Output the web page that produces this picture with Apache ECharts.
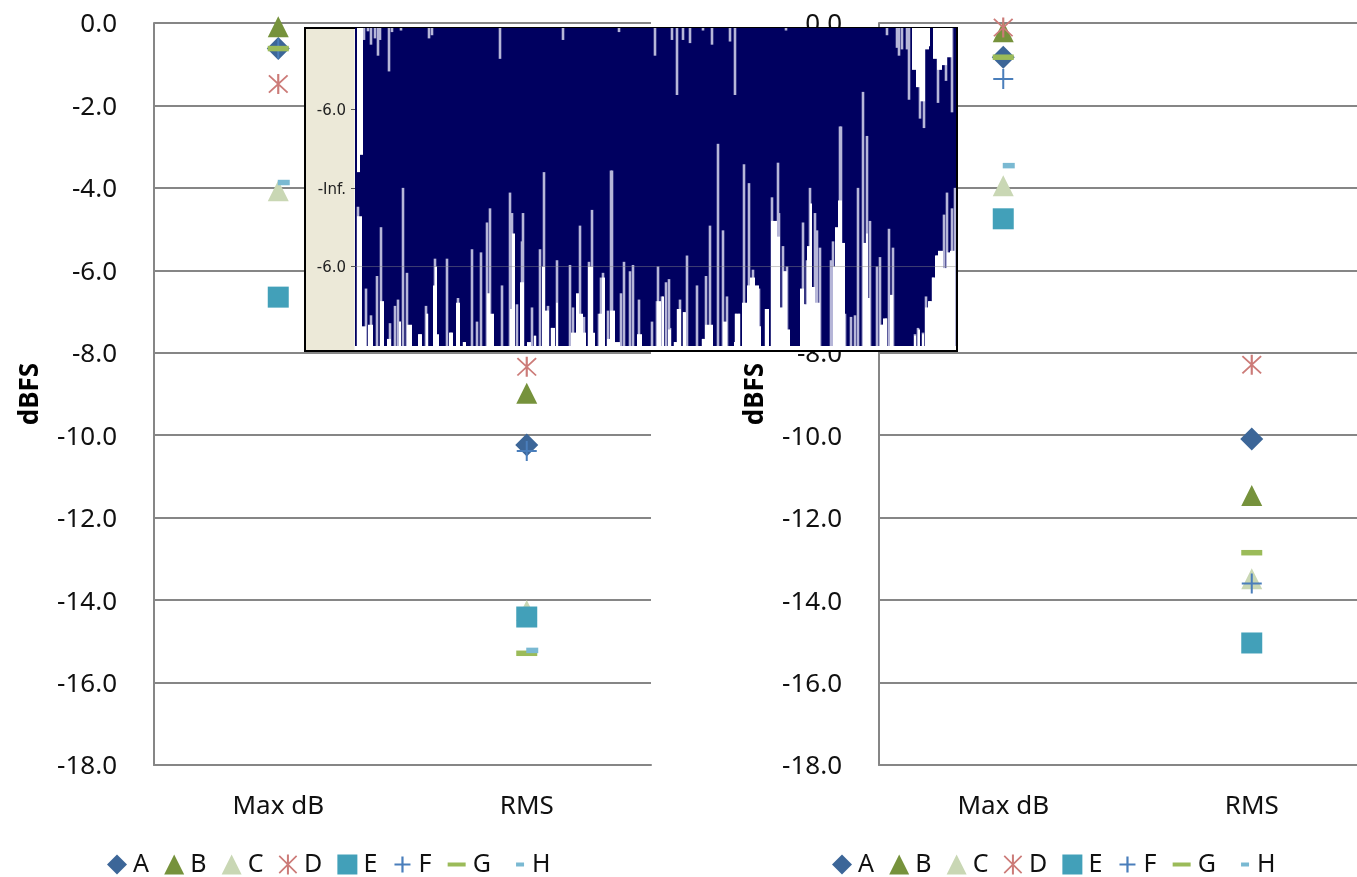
<!DOCTYPE html>
<html><head><meta charset="utf-8">
<style>html,body{margin:0;padding:0;background:#fff;overflow:hidden;width:1357px;height:877px}#c{width:1400px;height:877px}</style>
<script src="https://cdn.jsdelivr.net/npm/echarts@6/dist/echarts.min.js"></script>
</head><body><div id="c"></div>
<script>
const categories = ['Max dB', 'RMS'];
const yTicks = [0, -2, -4, -6, -8, -10, -12, -14, -16, -18];
const seriesNames = ['A', 'B', 'C', 'D', 'E', 'F', 'G', 'H'];
const leftA = [-0.62, -10.24], leftB = [-0.09, -8.98], leftC = [-4.07, -14.25], leftD = [-1.48, -8.34];
const leftE = [-6.65, -14.41], leftF = [-0.62, -10.38], leftG = [-0.62, -15.29], leftH = [-3.87, -15.22];
const rightA = [-0.83, -10.09], rightB = [-0.21, -11.46], rightC = [-3.95, -13.48], rightD = [-0.11, -8.29];
const rightE = [-4.75, -15.04], rightF = [-1.36, -13.6], rightG = [-0.83, -12.85], rightH = [-3.46, null];

// inset waveform readings: [sample, amplitude]
const lowerSpikes = [[3,-.12],[11,-.64],[16,-.81],[22,-.56],[26,-.25],[35,-.86],[40,-.75],[43,-.71],[48,0],[52,-.54],[65,-.93],[71,-.75],[72,-.80],[80,-.45],[92,-.45],[96,-.92],[103,-.70],[109,-.98],[117,-.39],[122,-.85],[126,-.41],[132,-.22],[135,-.13],[147,-.62],[155,-.03],[157,-.16],[162,-.74],[167,-.34],[168,-.16],[177,-.76],[180,-.94],[185,-.39],[189,.10],[193,-.75],[197,-.89],[202,-.46],[215,-.49],[218,-.76],[225,-.24],[229,-.82],[234,-.47],[237,-.14],[244,-.80],[246,-.57],[248,-.54],[253,-.78],[256,.11],[257,.11],[266,-.67],[269,-.47],[275,-.53],[278,-.49],[284,-.71],[297,-.85],[302,-.72],[303,-.50],[307,-.69],[311,-.60],[314,-.58],[315,-.89],[320,-.98],[323,-.77],[325,-.71],[329,-.79],[332,-.43],[342,-.62],[348,-.96],[351,-.56],[355,-.24],[363,.28],[368,-.27],[372,-.69],[381,-.80],[384,-.80],[389,.15],[394,.03],[398,-.52],[404,-.64],[411,-.77],[417,-.06],[423,.16],[424,-.16],[428,-.37],[430,-.53],[432,-.50],[448,-.22],[449,-.74],[452,-.46],[455,0],[460,-.16],[462,-.27],[465,-.38],[476,-.46],[478,-.34],[485,.39],[486,.39],[490,-.80],[496,-.82],[500,-.81],[503,0],[508,.61],[512,.33],[515,-.21],[522,-.50],[525,-.44],[527,-.87],[531,-.83],[534,-.26],[538,-.38],[560,-.93],[563,-.89],[568,-.92],[571,-.69],[575,-.72],[578,-.57],[582,-.43],[589,-.17],[592,-.03],[597,-.13],[600,0]];
const upperSpikes = [[9,.94],[13,.995],[16,.91],[20,.95],[23,.84],[25,.94],[34,.74],[37,.99],[46,1.0],[74,.95],[77,.97],[145,.82],[208,.94],[264,.99],[300,.84],[317,.94],[322,.59],[328,.94],[335,.92],[348,1.0],[357,.91],[375,.93],[380,.59],[431,1.0],[532,.97],[542,.89],[544,.84],[547,.88],[552,.88],[554,.56],[565,.44],[569,.38],[583,.54],[591,.68],[597,.48]];
// solid white columns: [from, to, amplitude]
const lowerFill = [[2,7,-.18],[7,11,-.88],[13,18,-.87],[25,29,-.72],[32,36,-.96],[44,46,-.85],[52,57,-.87],[63,67,-.93],[71,73,-.80],[78,80,-.62],[80,82,-.50],[82,84,-.93],[94,98,-.92],[101,105,-.73],[108,111,-.98],[132,135,-.67],[135,139,-.80],[155,157,-.77],[157,160,-.29],[165,169,-.60],[172,176,-.98],[179,181,-.94],[187,190,-.50],[190,194,-.78],[196,200,-.89],[201,203,-.73],[216,221,-.92],[221,224,-.67],[224,228,-.80],[228,231,-.92],[233,238,-.50],[238,240,-.92],[244,247,-.80],[247,250,-.57],[252,255,-.96],[255,260,-.78],[260,265,-.98],[282,287,-.93],[302,306,-.72],[307,309,-.69],[313,316,-.90],[319,322,-.98],[322,326,-.77],[328,331,-.79],[347,350,-.96],[350,358,-.87],[368,372,-.85],[379,381,-.98],[380,385,-.80],[387,392,-.73],[392,395,-.62],[395,400,-.57],[400,404,-.62],[404,406,-.88],[410,414,-.77],[416,422,-.21],[422,425,-.31],[425,428,-.76],[428,432,-.53],[432,435,-.90],[445,449,-.64],[449,452,-.74],[452,455,-.37],[455,457,-.10],[457,460,-.63],[460,465,-.73],[478,480,-.50],[480,483,-.25],[483,487,-.08],[487,490,-.35],[508,511,-.35],[511,513,-.29],[513,515,-.70],[525,528,-.87],[528,532,-.83],[535,538,-.68],[559,561,-.94],[563,565,-.90],[567,569,-.93],[570,573,-.76],[573,577,-.72],[577,580,-.57],[580,583,-.43],[583,588,-.40],[588,592,-.51],[592,595,-.41],[595,600,-.40]];
const upperFill = [[2,5,.10],[5,8,.21],[557,561,.75],[561,565,.64],[565,570,.55],[570,574,.88],[574,575,.90],[578,582,.82],[582,587,.75],[587,592,.78],[592,597,.83]];
const insetTicks = [0.5, 0, -0.5];
const insetTickLabels = ['-6.0', '-Inf.', '-6.0'];
const insetMin = -1.005, insetMax = 1.016;

const FONT = '"Noto Sans",sans-serif';
const PLUS = 'path://M9 0H11V9H20V11H11V20H9V11H0V9H9Z';
const STAR = 'path://M9 0H11V20H9ZM0.7 1.9L1.9 0.7L19.3 18.1L18.1 19.3ZM18.1 0.7L19.3 1.9L1.9 19.3L0.7 18.1Z';
const looks = {
  A:{symbol:'diamond',size:23,color:'#3C6698'},
  B:{symbol:'triangle',size:21,color:'#76923C'},
  C:{symbol:'triangle',size:21,color:'#C9D7B4'},
  D:{symbol:STAR,size:20,color:'#CC7B78'},
  E:{symbol:'rect',size:21,color:'#42A0B9'},
  F:{symbol:PLUS,size:20,color:'#4A7EBB'},
  G:{symbol:'rect',size:[21,5.5],color:'#9BBB59'},
  H:{symbol:'rect',size:[12,5.5],color:'#7AB9D2',offset:[5.5,0]}
};
const legendIcons = {
  A:'diamond',B:'triangle',C:'triangle',D:STAR,E:'rect',
  F:'path://M0 0L0 0M8.9 2H11.1V8.9H18V11.1H11.1V18H8.9V11.1H2V8.9H8.9ZM20 20L20 20',
  G:'path://M0 0L0 0M1 8H19V12H1ZM20 20L20 20',
  H:'path://M0 0L0 0M10 8H18V12H10ZM20 20L20 20'
};
function leftData(k){return {A:leftA,B:leftB,C:leftC,D:leftD,E:leftE,F:leftF,G:leftG,H:leftH}[k];}
function rightData(k){return {A:rightA,B:rightB,C:rightC,D:rightD,E:rightE,F:rightF,G:rightG,H:rightH}[k];}

const panels = [{left:154,get:leftData,legend:107},{left:879,get:rightData,legend:832}];
const grid=[],xAxis=[],yAxis=[],series=[],legend=[];
const gray='#868686';
panels.forEach((p,i)=>{
  grid.push({left:p.left,width:497,top:23,height:742});
  xAxis.push({type:'category',gridIndex:i,data:categories,position:'bottom',
    axisLine:{onZero:false,lineStyle:{color:gray,width:2}},axisTick:{show:false},
    axisLabel:{color:'#111',fontFamily:FONT,fontSize:26,margin:29},splitLine:{show:false}});
  yAxis.push({type:'value',gridIndex:i,min:-18,max:0,interval:2,
    name:'dBFS',nameLocation:'middle',nameGap:110,nameRotate:90,
    nameTextStyle:{fontFamily:FONT,fontWeight:'bold',fontSize:26,color:'#000'},
    axisLine:{show:true,lineStyle:{color:gray,width:2}},axisTick:{show:false},
    axisLabel:{color:'#111',fontFamily:FONT,fontSize:26,margin:37,verticalAlign:'top',lineHeight:4,formatter:v=>v.toFixed(1)},
    splitLine:{show:true,lineStyle:{color:gray,width:2}}});
  seriesNames.forEach(k=>{
    const s=looks[k];
    series.push({type:'scatter',name:k,xAxisIndex:i,yAxisIndex:i,data:p.get(k),symbol:s.symbol,symbolSize:s.size,
      symbolOffset:s.offset||[0,0],itemStyle:{color:s.color,opacity:1},z:3,silent:true,clip:false});
  });
  legend.push({left:p.legend,top:852,padding:0,itemWidth:20,itemHeight:20,itemGap:15.2,
    textStyle:{fontFamily:FONT,fontSize:25,color:'#111',padding:[0,0,0,1]},
    data:seriesNames.map(k=>({name:k,icon:legendIcons[k]})),selectedMode:false});
});

// inset
const ix=2;
grid.push({left:355,width:601,top:28,height:318,show:true,backgroundColor:'#000060',borderWidth:0,z:10});
xAxis.push({type:'value',gridIndex:ix,min:0,max:601,show:false,z:11});
yAxis.push({type:'value',gridIndex:ix,min:insetMin,max:insetMax,z:11,
  axisLine:{show:false},
  axisTick:{show:true,customValues:insetTicks,length:4,lineStyle:{color:'#555'}},
  axisLabel:{show:true,customValues:insetTicks,color:'#222',fontFamily:'"DejaVu Sans",sans-serif',fontSize:15,margin:9,verticalAlign:'top',lineHeight:4,
    formatter:v=>insetTickLabels[insetTicks.indexOf(v)]},
  splitLine:{show:false}});
function spikeItem(edge,w,color){
  return (params,api)=>{
    const a=api.coord([api.value(0),api.value(1)]);
    const b=api.coord([api.value(0),edge]);
    return {type:'rect',shape:{x:a[0]-w/2,y:Math.min(a[1],b[1]),width:w,height:Math.abs(a[1]-b[1])},style:{fill:color}};
  };
}
function fillItem(edge){
  return (params,api)=>{
    const a=api.coord([api.value(0),api.value(2)]);
    const b=api.coord([api.value(1),edge]);
    return {type:'rect',shape:{x:a[0],y:Math.min(a[1],b[1]),width:b[0]-a[0],height:Math.abs(a[1]-b[1])},style:{fill:'#fff'}};
  };
}
const common={type:'custom',xAxisIndex:ix,yAxisIndex:ix,silent:true,clip:true};
series.push({...common,name:'lower spikes',data:lowerSpikes,z:12,renderItem:spikeItem(insetMin,2.6,'#B6B6D8')});
series.push({...common,name:'upper spikes',data:upperSpikes,z:12,renderItem:spikeItem(insetMax,2.6,'#B6B6D8')});
series.push({...common,name:'lower fill',data:lowerFill,z:13,renderItem:fillItem(insetMin)});
series.push({...common,name:'upper fill',data:upperFill,z:13,renderItem:fillItem(insetMax)});
series.push({type:'line',xAxisIndex:ix,yAxisIndex:ix,silent:true,symbol:'none',data:[[0,-.5],[601,-.5]],z:14,
  lineStyle:{color:'#888',opacity:.45,width:1}});

const graphic=[
  {type:'rect',z:9,shape:{x:305,y:28,width:652,height:323},style:{fill:'#fff',stroke:'#000',lineWidth:2}},
  {type:'rect',z:9,shape:{x:306,y:29,width:48.5,height:321},style:{fill:'#ECE9D8'}}
];
echarts.init(document.getElementById('c'),null,{renderer:'canvas'}).setOption({
  animation:false,backgroundColor:'#fff',grid,xAxis,yAxis,series,legend,graphic
});
</script></body></html>
